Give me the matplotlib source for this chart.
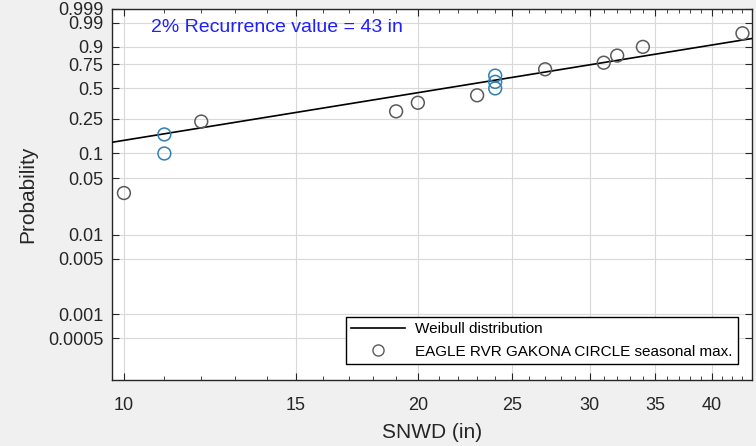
import numpy as np
import matplotlib
matplotlib.use("Agg")
import matplotlib.pyplot as plt
from matplotlib.ticker import FixedLocator, NullFormatter

# seasonal maximum snow depth (in), sorted, and their plotting probabilities
snwd = [10, 11, 11, 12, 19, 20, 23, 24, 24, 24, 27, 31, 32, 34, 43]
prob = [0.033, 0.100, 0.167, 0.233, 0.300, 0.367, 0.433, 0.500,
        0.567, 0.633, 0.700, 0.767, 0.833, 0.900, 0.967]

# fitted Weibull parameters
shape_k = 1.99
scale_lam = 25.6

yticks = [0.0005, 0.001, 0.005, 0.01, 0.05, 0.1, 0.25, 0.5, 0.75, 0.9, 0.99, 0.999]
ytick_labels = ["0.0005", "0.001", "0.005", "0.01", "0.05", "0.1", "0.25", "0.5",
                "0.75", "0.9", "0.99", "0.999"]
xticks = [10, 15, 20, 25, 30, 35, 40]

plt.rcParams['font.family'] = ['Liberation Sans', 'DejaVu Sans']


def wb_fwd(p):
    p = np.asarray(p, dtype=float)
    with np.errstate(all='ignore'):
        return np.log(-np.log(1 - p))


def wb_inv(w):
    w = np.asarray(w, dtype=float)
    return 1 - np.exp(-np.exp(w))


fig = plt.figure(figsize=(7.56, 4.46), dpi=100, facecolor='#f0f0f0')
ax = fig.add_axes([0.148, 0.148, 0.847, 0.832])
ax.set_xscale('log')
ax.set_yscale('function', functions=(wb_fwd, wb_inv))
ax.set_xlim(9.72, 44)
ax.set_ylim(1.5e-4, 0.999)

# fitted line
xl = np.linspace(9.72, 44, 200)
ax.plot(xl, 1 - np.exp(-(xl / scale_lam) ** shape_k), color='black', lw=1.2,
        label='Weibull distribution', zorder=3)

# observations: tied values in blue
counts = {v: snwd.count(v) for v in snwd}
cols = ['#2f7fb5' if counts[v] > 1 else '#5a5a5a' for v in snwd]
ax.scatter(snwd, prob, s=85, facecolors='none', edgecolors=cols, linewidths=1.1, zorder=4)
ax.plot([], [], 'o', mfc='none', mec='#5a5a5a', ms=8,
        label='EAGLE RVR GAKONA CIRCLE seasonal max.')

ax.xaxis.set_major_locator(FixedLocator(xticks))
ax.xaxis.set_minor_locator(FixedLocator([v for v in range(10, 45) if v not in xticks]))
ax.set_xticklabels([str(v) for v in xticks])
ax.xaxis.set_minor_formatter(NullFormatter())
ax.yaxis.set_major_locator(FixedLocator(yticks))
ax.yaxis.set_minor_locator(FixedLocator([]))
ax.set_yticklabels(ytick_labels)

ax.grid(True, which='major', color='#d9d9d9', lw=0.8)
ax.tick_params(which='both', direction='in', top=True, right=True, colors='#262626',
               labelsize=13)
ax.tick_params(which='major', length=5)
ax.tick_params(which='minor', length=3)
ax.tick_params(axis='x', pad=12)
ax.tick_params(axis='y', pad=6)
for s in ax.spines.values():
    s.set_color('#262626')
    s.set_linewidth(1.0)

ax.set_xlabel('SNWD (in)', fontsize=15, color='#262626', labelpad=7)
ax.set_ylabel('Probability', fontsize=15, color='#262626', labelpad=8)

ax.text(0.061, 0.949, '2% Recurrence value = 43 in', transform=ax.transAxes,
        color='#2020ff', fontsize=14, va='center', ha='left')

leg = ax.legend(loc='lower right', bbox_to_anchor=(0.978, 0.043), fontsize=11,
                fancybox=False, edgecolor='black', framealpha=1, borderpad=0.35,
                handlelength=3.5, handletextpad=0.7, labelspacing=0.55,
                borderaxespad=0)
leg.get_frame().set_linewidth(1.0)

fig.savefig('out.png', dpi=100, facecolor=fig.get_facecolor())
